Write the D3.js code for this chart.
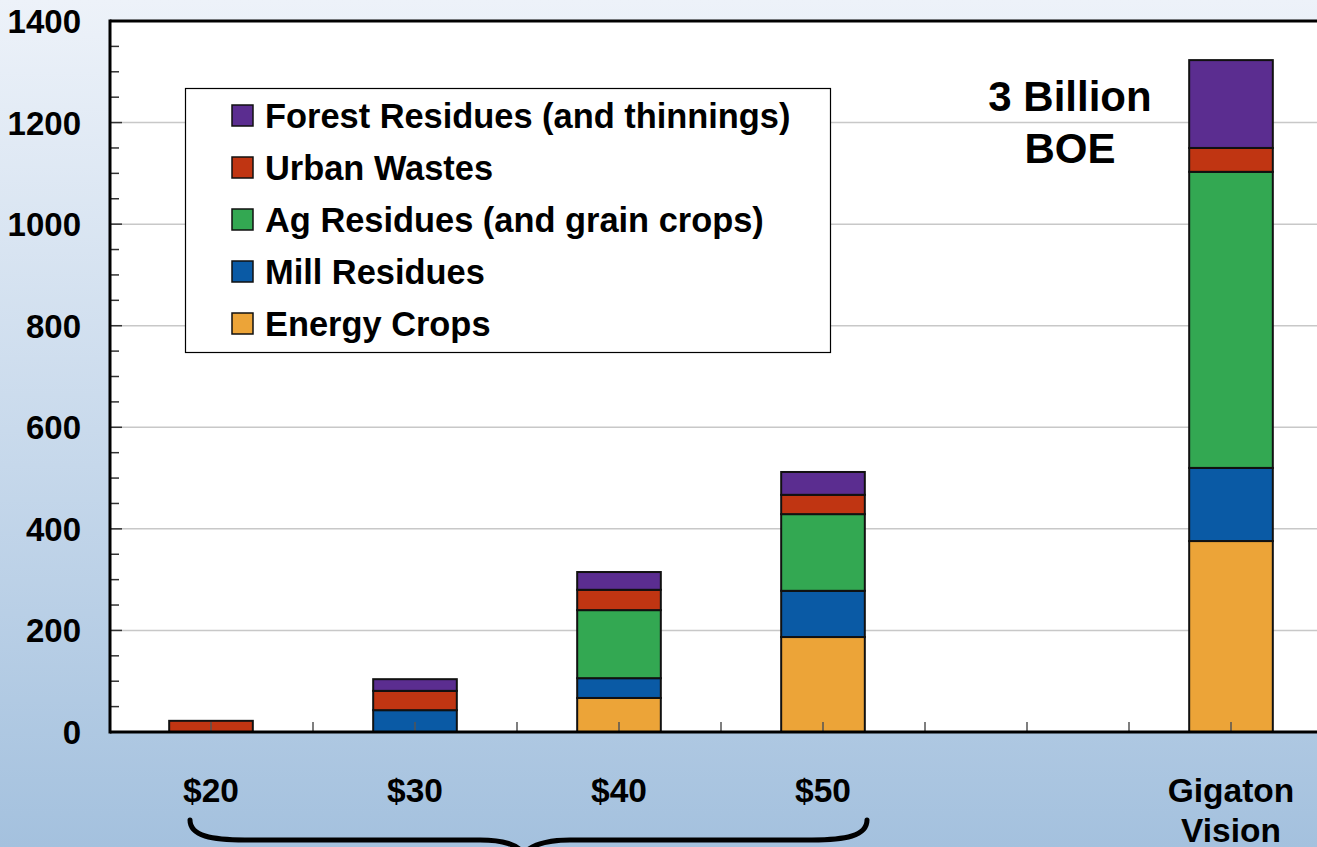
<!DOCTYPE html>
<html>
<head>
<meta charset="utf-8">
<script src="https://cdn.jsdelivr.net/npm/d3@7"></script>
<style>
  html, body { margin: 0; padding: 0; overflow: hidden; }
  svg { display: block; }
  text { font-family: "Liberation Sans", Arial, sans-serif; font-weight: bold; fill: #000; }
</style>
</head>
<body>
<script>
// Biomass supply by feedstock price (stacked), plus the gigaton vision column
const categories = ["$20", "$30", "$40", "$50", "", "Gigaton Vision"];
const energyCrops    = [0,   0,  67, 187, 0, 376];
const millResidues   = [0,  43,  39,  91, 0, 144];
const agResidues     = [0,   0, 134, 151, 0, 583];
const urbanWastes    = [22, 38,  40,  38, 0,  47];
const forestResidues = [0,  23,  35,  45, 0, 173];
const yTicks = [0, 200, 400, 600, 800, 1000, 1200, 1400];

const seriesNames = ["Energy Crops", "Mill Residues", "Ag Residues (and grain crops)", "Urban Wastes", "Forest Residues (and thinnings)"];
const seriesValues = [energyCrops, millResidues, agResidues, urbanWastes, forestResidues];
const seriesColors = ["#eca438", "#0a5aa5", "#33a852", "#c03512", "#5b2d90"];

const W = 1317, H = 847;
const plot = { left: 110, top: 21, bottom: 732, right: 1340 };

const svg = d3.select("body").append("svg").attr("width", W).attr("height", H);

// background gradient
const defs = svg.append("defs");
const grad = defs.append("linearGradient").attr("id", "bg").attr("x1", 0).attr("y1", 0).attr("x2", 0).attr("y2", 1);
grad.append("stop").attr("offset", "0%").attr("stop-color", "#edf2f9");
grad.append("stop").attr("offset", "55%").attr("stop-color", "#c6d8eb");
grad.append("stop").attr("offset", "100%").attr("stop-color", "#a4c1de");
svg.append("rect").attr("width", W).attr("height", H).attr("fill", "url(#bg)");

// plot area
svg.append("rect")
  .attr("x", plot.left).attr("y", plot.top)
  .attr("width", plot.right - plot.left).attr("height", plot.bottom - plot.top)
  .attr("fill", "#fff");

const keys = categories.map((c, i) => i);
const x = d3.scaleBand().domain(keys).range([109, 109 + 6 * 204]).paddingInner(0.59).paddingOuter(0.295);
const y = d3.scaleLinear().domain([0, 1400]).range([plot.bottom, plot.top]);

// gridlines
svg.append("g").selectAll("line").data(yTicks.filter(v => v > 0 && v < 1400)).join("line")
  .attr("x1", plot.left).attr("x2", plot.right)
  .attr("y1", d => y(d)).attr("y2", d => y(d))
  .attr("stroke", "#c8c8c8").attr("stroke-width", 1.5);

// stacked bars
const rows = keys.map(i => {
  const r = { key: i };
  seriesNames.forEach((n, s) => r[n] = seriesValues[s][i]);
  return r;
});
const stacked = d3.stack().keys(seriesNames)(rows);
stacked.forEach((layer, s) => {
  svg.append("g").selectAll("rect")
    .data(layer.filter(d => d[1] - d[0] > 0))
    .join("rect")
    .attr("x", d => x(d.data.key))
    .attr("width", x.bandwidth())
    .attr("y", d => y(d[1]))
    .attr("height", d => y(d[0]) - y(d[1]))
    .attr("fill", seriesColors[s])
    .attr("stroke", "#111").attr("stroke-width", 2);
});

// x ticks at band centres and band boundaries
const xTickPos = [];
keys.forEach(k => {
  const c = x(k) + x.bandwidth() / 2;
  xTickPos.push(c);
  if (k > 0) xTickPos.push(c - x.step() / 2);
});
svg.append("g").selectAll("line").data(xTickPos).join("line")
  .attr("x1", d => d).attr("x2", d => d)
  .attr("y1", plot.bottom).attr("y2", plot.bottom - 10)
  .attr("stroke", "#555").attr("stroke-width", 1.5);

// y ticks: minor every 50, inside the plot
const minor = d3.range(50, 1400, 50);
svg.append("g").selectAll("line").data(minor).join("line")
  .attr("x1", plot.left).attr("x2", d => plot.left + (d % 200 === 0 ? 12 : 9))
  .attr("y1", d => y(d)).attr("y2", d => y(d))
  .attr("stroke", "#333").attr("stroke-width", 1.5);

// frame lines
svg.append("line").attr("x1", plot.left).attr("x2", plot.right).attr("y1", plot.top).attr("y2", plot.top)
  .attr("stroke", "#000").attr("stroke-width", 3);
svg.append("line").attr("x1", plot.left).attr("x2", plot.left).attr("y1", plot.top - 1.5).attr("y2", plot.bottom + 1.5)
  .attr("stroke", "#000").attr("stroke-width", 3);
svg.append("line").attr("x1", plot.left).attr("x2", plot.right).attr("y1", plot.bottom).attr("y2", plot.bottom)
  .attr("stroke", "#000").attr("stroke-width", 3);

// y labels
svg.append("g").selectAll("text").data(yTicks).join("text")
  .attr("x", 81).attr("y", d => y(d) + 12)
  .attr("text-anchor", "end").attr("font-size", 33)
  .text(d => d);

// x labels
categories.forEach((c, i) => {
  if (!c) return;
  const cx = x(i) + x.bandwidth() / 2;
  const words = c === "Gigaton Vision" ? ["Gigaton", "Vision"] : [c];
  words.forEach((w, j) => {
    svg.append("text").attr("x", cx).attr("y", 802 + j * 40)
      .attr("text-anchor", "middle").attr("font-size", 33.5).text(w);
  });
});

// brace grouping the price points
const brace = d3.path();
brace.moveTo(190, 820);
brace.bezierCurveTo(190, 836, 212, 840, 245, 840);
brace.lineTo(480, 840);
brace.bezierCurveTo(505, 840, 516, 845, 524, 853);
brace.moveTo(524, 853);
brace.bezierCurveTo(532, 845, 545, 840, 570, 840);
brace.lineTo(812, 840);
brace.bezierCurveTo(845, 840, 867, 836, 867, 820);
svg.append("path").attr("d", brace.toString())
  .attr("fill", "none").attr("stroke", "#000").attr("stroke-width", 5).attr("stroke-linecap", "round");

// annotation
svg.append("text").attr("x", 1070).attr("y", 111).attr("text-anchor", "middle").attr("font-size", 42).text("3 Billion");
svg.append("text").attr("x", 1070).attr("y", 163).attr("text-anchor", "middle").attr("font-size", 42).text("BOE");

// legend
const legend = svg.append("g");
legend.append("rect").attr("x", 185.5).attr("y", 88.5).attr("width", 645).attr("height", 264)
  .attr("fill", "#fff").attr("stroke", "#000").attr("stroke-width", 1.2);
const legendOrder = [4, 3, 2, 1, 0];
legendOrder.forEach((s, j) => {
  const cy = 116 + j * 52;
  legend.append("rect").attr("x", 232).attr("y", cy - 11).attr("width", 21).attr("height", 21)
    .attr("fill", seriesColors[s]).attr("stroke", "#111").attr("stroke-width", 1.5);
  legend.append("text").attr("x", 265).attr("y", cy + 12).attr("font-size", 34.4).text(seriesNames[s]);
});
</script>
</body>
</html>
